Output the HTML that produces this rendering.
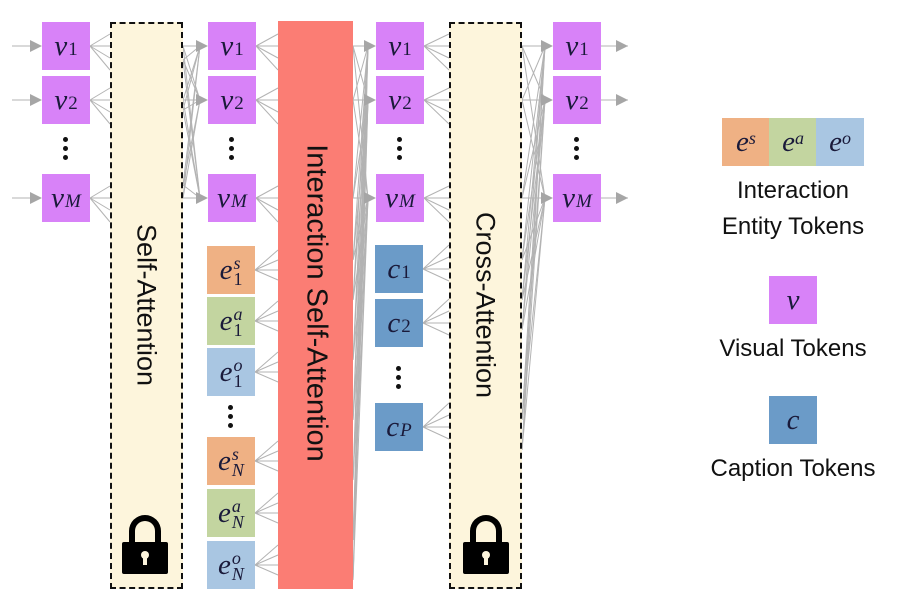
<!DOCTYPE html>
<html><head><meta charset="utf-8"><style>
body{margin:0;background:#fff;width:901px;height:604px;overflow:hidden;position:relative;font-family:"Liberation Sans",sans-serif}
.b{position:absolute;width:48px;height:48px;display:flex;align-items:center;justify-content:center;font-family:"Liberation Serif",serif;font-style:italic;font-size:29px;color:#1a1a3a}
.b sub{font-size:19px;font-style:normal;position:relative;top:4px;vertical-align:baseline;margin-left:1px}
.b sub i{font-style:italic}
.v{background:#d882f8}.es{background:#efb184}.ea{background:#c3d5a0}.eo{background:#a9c6e2}.c{background:#6b9bc8}
.ss{display:flex;flex-direction:column;font-size:18px;line-height:16px;margin-left:1px;margin-top:2px}
.dots{position:absolute;width:6px;font-size:0}
.dots i{display:block;width:5px;height:5px;border-radius:50%;background:#111;margin:0 0 4px 0}
.blk{position:absolute;box-sizing:border-box}
.rt{position:absolute;white-space:nowrap;transform:translate(-50%,-50%) rotate(90deg);color:#111}
.lg{position:absolute;font-size:24px;color:#111;text-align:center;width:200px;left:693px}
</style></head><body>
<svg id="s" width="901" height="604" style="position:absolute;left:0;top:0"></svg>
<div class="blk" style="left:110px;top:22px;width:73px;height:567px;background:#fdf5dc;border:2px dashed #111"></div>
<div class="blk" style="left:278px;top:21px;width:75px;height:568px;background:#fb7d74"></div>
<div class="blk" style="left:449px;top:22px;width:73px;height:567px;background:#fdf5dc;border:2px dashed #111"></div>
<div class="rt" style="left:146px;top:305px;font-size:27px">Self-Attention</div>
<div class="rt" style="left:316px;top:303px;font-size:29px">Interaction Self-Attention</div>
<div class="rt" style="left:485px;top:305px;font-size:27px">Cross-Attention</div>
<svg width="901" height="604" style="position:absolute;left:0;top:0">
<g fill="#000"><path d="M129 543 v-12 a16 16 0 0 1 32 0 v12 h-6 v-12 a10 10 0 0 0 -20 0 v12z"/><rect x="122" y="542" width="46" height="32" rx="2"/>
<path d="M470 543 v-12 a16 16 0 0 1 32 0 v12 h-6 v-12 a10 10 0 0 0 -20 0 v12z"/><rect x="463" y="542" width="46" height="32" rx="2"/></g>
<g fill="#fdf5dc"><circle cx="145" cy="555" r="4"/><rect x="143" y="556" width="4" height="9"/><circle cx="486" cy="555" r="4"/><rect x="484" y="556" width="4" height="9"/></g>
</svg>
<div id="boxes"></div>
<div class="b es" style="left:722px;top:118px;width:48px;height:48px">e<sup style="font-size:18px;position:relative;top:-4px">s</sup></div>
<div class="b ea" style="left:769px;top:118px;width:48px;height:48px">e<sup style="font-size:18px;position:relative;top:-4px">a</sup></div>
<div class="b eo" style="left:816px;top:118px;width:48px;height:48px">e<sup style="font-size:18px;position:relative;top:-4px">o</sup></div>
<div class="lg" style="top:177px">Interaction</div>
<div class="lg" style="top:213px">Entity Tokens</div>
<div class="b v" style="left:769px;top:276px">v</div>
<div class="lg" style="top:335px">Visual Tokens</div>
<div class="b c" style="left:769px;top:396px">c</div>
<div class="lg" style="top:455px">Caption Tokens</div>
<script>
var B=document.getElementById('boxes'),h='';
function box(cls,x,y,base,sub,sup){
 var t=sup?('e<span class="ss"><i>'+sup+'</i><span style="font-style:'+(sub=='1'?'normal':'italic')+'">'+sub+'</span></span>'):(base+'<sub>'+(sub=='M'||sub=='P'?'<i>'+sub+'</i>':sub)+'</sub>');
 h+='<div class="b '+cls+'" style="left:'+x+'px;top:'+y+'px">'+t+'</div>';}
function dots(x,y){h+='<div class="dots" style="left:'+x+'px;top:'+y+'px"><i></i><i></i><i></i></div>';}
var vy=[22,76,174],vs=['1','2','M'];
[42,208,376,553].forEach(function(x){for(var i=0;i<3;i++)box('v',x,vy[i],'v',vs[i]);dots(x+21,137);});
var ey=[246,297,348,437,489,541],ec=['es','ea','eo','es','ea','eo'],eu=['s','a','o','s','a','o'],en=['1','1','1','N','N','N'];
for(var i=0;i<6;i++)box(ec[i],207,ey[i],'',en[i],eu[i]);dots(228,405);
var cy=[245,299,403],cs=['1','2','P'];for(var i=0;i<3;i++)box('c',375,cy[i],'c',cs[i]);dots(396,366);
B.innerHTML=h;
var s='',L='#b3b3b3';
function ln(a,b,c,d){s+='<line x1="'+a+'" y1="'+b+'" x2="'+c+'" y2="'+d+'" stroke="'+L+'" stroke-width="1"/>';}
function ar(x,y){s+='<polygon points="'+(x-12)+','+(y-6)+' '+x+','+y+' '+(x-12)+','+(y+6)+'" fill="#a6a6a6"/>';}
var vc=[46,100,198];
vc.forEach(function(y){ln(12,y,40,y);ar(42,y);});
vc.forEach(function(y){ln(595,y,628,y);ar(628,y);});
function fanOut(x1,x2,ys,d){ys.forEach(function(y){[-d,0,d,2*d].forEach(function(k){ln(x1,y,x2,y+k);});});}
fanOut(90,110,vc,12);fanOut(256,278,vc,12);fanOut(424,449,vc,12);
fanOut(255,278,ey.map(function(y){return y+24;}),-10);
fanOut(423,449,cy.map(function(y){return y+24;}),-12);
function fanIn(x1,x2,srcs,tg){tg.forEach(function(t){srcs.forEach(function(y){ln(x1,y,x2-8,t);});ar(x2,t);});}
fanIn(183,208,[46,100,198,60,110,185],vc);
fanIn(353,376,[46,100,198,260,300,360,420,480,540,580],vc);
fanIn(522,553,[46,100,198,260,300,330,420,450],vc);
document.getElementById('s').innerHTML=s;
</script>
</body></html>
